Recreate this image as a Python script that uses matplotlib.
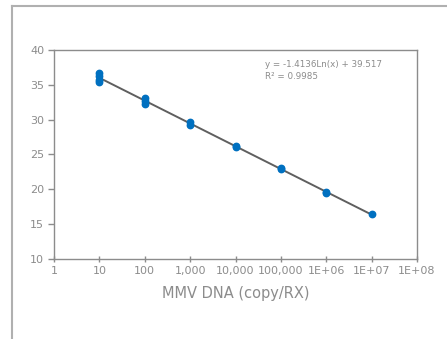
import numpy as np
import matplotlib
matplotlib.use("Agg")
import matplotlib.pyplot as plt
from matplotlib.lines import Line2D
from matplotlib.ticker import FixedLocator, NullLocator

# Data (copies per reaction vs Ct)
copies = [10, 10, 10, 10, 100, 100, 100, 1000, 1000, 10000, 10000,
          100000, 100000, 1e6, 1e6, 1e7]
ct = [36.7, 36.3, 35.7, 35.4, 33.1, 32.7, 32.3, 29.7, 29.3, 26.2, 26.1,
      23.0, 22.9, 19.6, 19.5, 16.5]
xticks = [1, 10, 100, 1e3, 1e4, 1e5, 1e6, 1e7, 1e8]
xticklabels = ["1", "10", "100", "1,000", "10,000", "100,000", "1E+06", "1E+07", "1E+08"]
yticks = [10, 15, 20, 25, 30, 35, 40]
eq_text = "y = -1.4136Ln(x) + 39.517\nR² = 0.9985"

plt.rcParams['font.family'] = ['Liberation Sans Narrow', 'DejaVu Sans']
grey = "#8c8c8c"

fig = plt.figure(figsize=(4.47, 3.39), dpi=100)
ax = fig.add_axes([54/447, 1-259/339, (417-54)/447, (259-50)/339])

# trend line fitted to the data in ln space
lx = np.log(np.array(copies, dtype=float))
slope, intercept = np.polyfit(lx, ct, 1)
xs = np.array([min(copies), max(copies)], dtype=float)
ax.plot(xs, slope*np.log(xs)+intercept, color="#5f5f5f", lw=1.4, zorder=2)
ax.plot(copies, ct, 'o', color="#0070c0", ms=4.6, zorder=3)

ax.set_xscale('log')
ax.set_xlim(1, 1e8)
ax.set_ylim(10, 40)
ax.xaxis.set_major_locator(FixedLocator(xticks))
ax.xaxis.set_minor_locator(NullLocator())
ax.set_xticklabels(xticklabels)
ax.set_yticks(yticks)
for s in ax.spines.values():
    s.set_color(grey)
    s.set_linewidth(1.0)
ax.tick_params(axis='both', colors=grey, labelcolor=grey, labelsize=8, length=4, width=1)
ax.tick_params(axis='x', direction='inout', pad=3)
ax.tick_params(axis='y', direction='out', pad=3)
ax.set_xlabel("MMV DNA (copy/RX)", color=grey, fontsize=10.5, labelpad=7)
ax.text(0.58, 0.95, eq_text, transform=ax.transAxes, fontsize=6.3, color=grey,
        va='top', ha='left', linespacing=1.3)

# outer frame lines
fig.add_artist(Line2D([12/447, 12/447], [0, 1-6/339], transform=fig.transFigure, color="#b0b0b0", lw=1.5))
fig.add_artist(Line2D([12/447, 1], [1-6/339, 1-6/339], transform=fig.transFigure, color="#b0b0b0", lw=1.5))

fig.savefig("out.png", dpi=100)
